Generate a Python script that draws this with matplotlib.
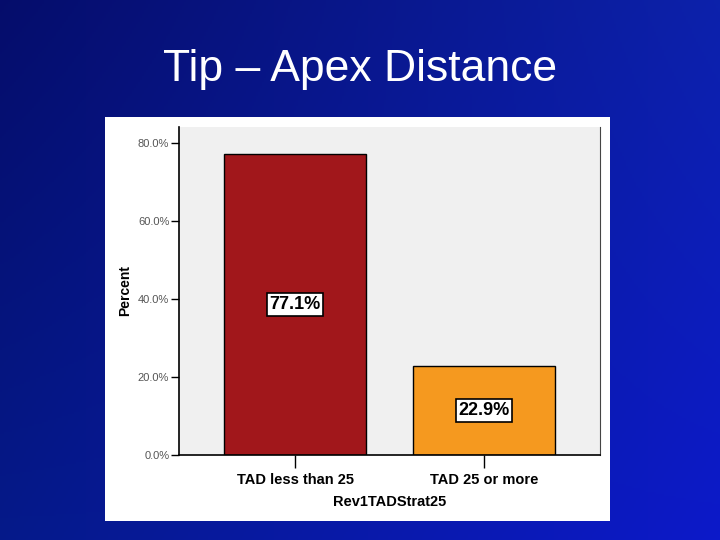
import numpy as np
import matplotlib.pyplot as plt
from matplotlib.patches import Rectangle

# data
categories = ['TAD less than 25', 'TAD 25 or more']
percents = [77.1, 22.9]
bar_colors = ['#A1171B', '#F5991F']
y_ticks = [0, 20, 40, 60, 80]
y_tick_labels = ['0.0%', '20.0%', '40.0%', '60.0%', '80.0%']

fig = plt.figure(figsize=(7.2, 5.4), dpi=100)

# slide background: blue gradient
bg = fig.add_axes([0, 0, 1, 1])
yy, xx = np.mgrid[0:1:270j, 0:1:360j]
r = 0.02 + 0.03 * xx
g = 0.05 + 0.08 * xx * (1 - yy) + 0.05 * yy
b = 0.42 + 0.25 * xx + 0.12 * yy
img = np.clip(np.dstack([r, g, b]), 0, 1)
bg.imshow(img, extent=[0, 1, 0, 1], aspect='auto', origin='upper')
bg.set_xlim(0, 1)
bg.set_ylim(0, 1)
bg.axis('off')

fig.text(0.5, 0.872, 'Tip \u2013 Apex Distance', color='white', ha='center', va='center',
         fontsize=32, family='Liberation Sans')

# white panel behind the chart
fig.patches.append(Rectangle((105 / 720, 1 - 521 / 540), 505 / 720, 404 / 540,
                             transform=fig.transFigure, facecolor='white', edgecolor='none', zorder=1))

ax = fig.add_axes([179 / 720, 1 - 455 / 540, 421 / 720, 328 / 540])
ax.set_zorder(2)
ax.set_facecolor('#F0F0F0')
x = np.arange(len(categories))
ax.bar(x, percents, width=0.75, color=bar_colors, edgecolor='black', linewidth=1.0)
ax.set_xlim(-0.614, 1.613)
ax.set_ylim(0, 84.1)

for xi, p in zip(x, percents):
    ax.text(xi, p / 2, f'{p:.1f}%', ha='center', va='center', fontsize=13, fontweight='bold',
            family='Liberation Sans',
            bbox=dict(boxstyle='square,pad=0.15', facecolor='white', edgecolor='black', linewidth=1.2))

ax.set_yticks(y_ticks)
ax.set_yticklabels(y_tick_labels, fontsize=8, color='#555555', family='Liberation Sans')
ax.set_xticks(x)
ax.set_xticklabels(categories, fontsize=10.5, fontweight='bold', family='Liberation Sans')
ax.tick_params(axis='x', length=9, width=1, pad=4)
ax.tick_params(axis='y', length=6, width=1, pad=1)
ax.get_xticklines()[2].set_color('#999999')

ax.spines['top'].set_visible(False)
ax.spines['right'].set_color('#444444')
ax.spines['left'].set_linewidth(1.2)
ax.spines['bottom'].set_linewidth(1.2)

ax.set_ylabel('Percent', fontsize=10, fontweight='bold', family='Liberation Sans', labelpad=4)
ax.set_xlabel('Rev1TADStrat25', fontsize=10.5, fontweight='bold', family='Liberation Sans', labelpad=6)

fig.savefig('out.png', dpi=100)
